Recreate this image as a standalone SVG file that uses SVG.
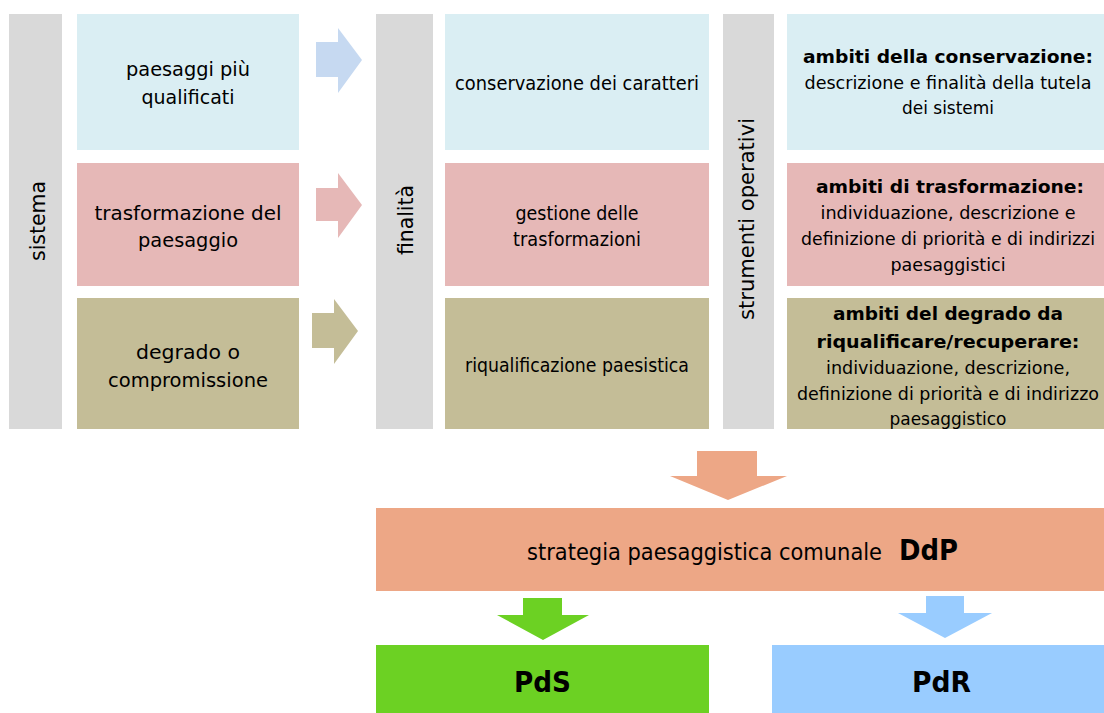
<svg xmlns="http://www.w3.org/2000/svg" width="1104" height="713" viewBox="0 0 1104 713">
<style>
text{font-family:"DejaVu Sans","Liberation Sans",sans-serif;fill:#000;text-anchor:middle}
.bar{fill:#D9D9D9}
.blue{fill:#DAEEF3}
.pink{fill:#E6B8B7}
.olive{fill:#C4BD97}
.t20{font-size:20px}
.t19{font-size:19px}
.t18{font-size:18px}
.b{font-weight:bold}
.side{font-size:22px}
</style>
<defs>
<clipPath id="clipR3"><rect x="787" y="298" width="317" height="131"/></clipPath>
</defs>
<rect width="1104" height="713" fill="#fff"/>

<g id="sistema">
<rect class="bar" x="9" y="14" width="53" height="415"/>
<text class="side" transform="translate(45,221) rotate(-90)" textLength="80" lengthAdjust="spacingAndGlyphs">sistema</text>
</g>
<g id="paesaggi">
<rect class="blue" x="77" y="14" width="222" height="136"/>
<text class="t20" x="188" y="76" textLength="124" lengthAdjust="spacingAndGlyphs">paesaggi più</text>
<text class="t20" x="188" y="104" textLength="93" lengthAdjust="spacingAndGlyphs">qualificati</text>
</g>
<g id="trasformazione">
<rect class="pink" x="77" y="163" width="222" height="123"/>
<text class="t20" x="188" y="220" textLength="187" lengthAdjust="spacingAndGlyphs">trasformazione del</text>
<text class="t20" x="188" y="247" textLength="100" lengthAdjust="spacingAndGlyphs">paesaggio</text>
</g>
<g id="degrado">
<rect class="olive" x="77" y="298" width="222" height="131"/>
<text class="t20" x="188" y="359" textLength="104" lengthAdjust="spacingAndGlyphs">degrado o</text>
<text class="t20" x="188" y="387" textLength="160" lengthAdjust="spacingAndGlyphs">compromissione</text>
</g>

<g id="finalita">
<rect class="bar" x="376" y="14" width="57" height="415"/>
<text class="side" transform="translate(413,220) rotate(-90)" textLength="70" lengthAdjust="spacingAndGlyphs">finalità</text>
</g>
<g id="conservazione">
<rect class="blue" x="445" y="14" width="264" height="136"/>
<text class="t19" x="577" y="90" textLength="244" lengthAdjust="spacingAndGlyphs">conservazione dei caratteri</text>
</g>
<g id="gestione">
<rect class="pink" x="445" y="163" width="264" height="123"/>
<text class="t19" x="577" y="220" textLength="123" lengthAdjust="spacingAndGlyphs">gestione delle</text>
<text class="t19" x="577" y="246" textLength="128" lengthAdjust="spacingAndGlyphs">trasformazioni</text>
</g>
<g id="riqualificazione">
<rect class="olive" x="445" y="298" width="264" height="131"/>
<text class="t19" x="577" y="372" textLength="224" lengthAdjust="spacingAndGlyphs">riqualificazione paesistica</text>
</g>

<g id="strumenti">
<rect class="bar" x="723" y="14" width="51" height="415"/>
<text class="side" transform="translate(754,219) rotate(-90)" textLength="202" lengthAdjust="spacingAndGlyphs">strumenti operativi</text>
</g>
<g id="ambiti-conservazione">
<rect class="blue" x="787" y="14" width="317" height="136"/>
<text class="t18 b" x="948" y="63" textLength="290" lengthAdjust="spacingAndGlyphs">ambiti della conservazione:</text>
<text class="t18" x="948" y="89" textLength="287" lengthAdjust="spacingAndGlyphs">descrizione e finalità della tutela</text>
<text class="t18" x="948" y="114" textLength="92" lengthAdjust="spacingAndGlyphs">dei sistemi</text>
</g>
<g id="ambiti-trasformazione">
<rect class="pink" x="787" y="163" width="317" height="123"/>
<text class="t18 b" x="950" y="193" textLength="268" lengthAdjust="spacingAndGlyphs">ambiti di trasformazione:</text>
<text class="t18" x="948" y="219" textLength="255" lengthAdjust="spacingAndGlyphs">individuazione, descrizione e</text>
<text class="t18" x="948" y="245" textLength="294" lengthAdjust="spacingAndGlyphs">definizione di priorità e di indirizzi</text>
<text class="t18" x="948" y="271" textLength="115" lengthAdjust="spacingAndGlyphs">paesaggistici</text>
</g>
<g id="ambiti-degrado">
<rect class="olive" x="787" y="298" width="317" height="131"/>
<g clip-path="url(#clipR3)">
<text class="t18 b" x="948" y="320" textLength="230" lengthAdjust="spacingAndGlyphs">ambiti del degrado da</text>
<text class="t18 b" x="948" y="348" textLength="263" lengthAdjust="spacingAndGlyphs">riqualificare/recuperare:</text>
<text class="t18" x="948" y="374" textLength="244" lengthAdjust="spacingAndGlyphs">individuazione, descrizione,</text>
<text class="t18" x="948" y="400" textLength="302" lengthAdjust="spacingAndGlyphs">definizione di priorità e di indirizzo</text>
<text class="t18" x="948" y="425" textLength="117" lengthAdjust="spacingAndGlyphs">paesaggistico</text>
</g>
</g>

<g id="strategia">
<rect x="376" y="508" width="728" height="83" fill="#EDA786"/>
<text style="font-size:23px;text-anchor:start" x="527" y="560" textLength="355" lengthAdjust="spacingAndGlyphs">strategia paesaggistica comunale</text>
<text class="b" style="font-size:28px;text-anchor:start" x="899" y="560" textLength="59" lengthAdjust="spacingAndGlyphs">DdP</text>
</g>
<g id="PdS">
<rect x="376" y="645" width="333" height="68" fill="#6CD123"/>
<text class="b" style="font-size:28px" x="542.5" y="692" textLength="57" lengthAdjust="spacingAndGlyphs">PdS</text>
</g>
<g id="PdR">
<rect x="772" y="645" width="332" height="68" fill="#99CCFF"/>
<text class="b" style="font-size:28px" x="941.5" y="692" textLength="59" lengthAdjust="spacingAndGlyphs">PdR</text>
</g>

<g id="connectors">
<polygon points="316,42 338,42 338,28 362,60 338,93 338,77 316,77" fill="#C6D9F1"/>
<polygon points="316,188 338,188 338,173 362,205 338,238 338,221 316,221" fill="#E6B8B7"/>
<polygon points="312,313 334,313 334,299 358,331 334,364 334,348 312,348" fill="#C4BD97"/>
<polygon points="697,451 757,451 757,476 787,476 728,500 670,476 697,476" fill="#EDA786"/>
<polygon points="523,598 562,598 562,615 589,615 543,640 497,615 523,615" fill="#6CD123"/>
<polygon points="926,596 964,596 964,613 992,613 945,638 898,613 926,613" fill="#99CCFF"/>
</g>
</svg>
